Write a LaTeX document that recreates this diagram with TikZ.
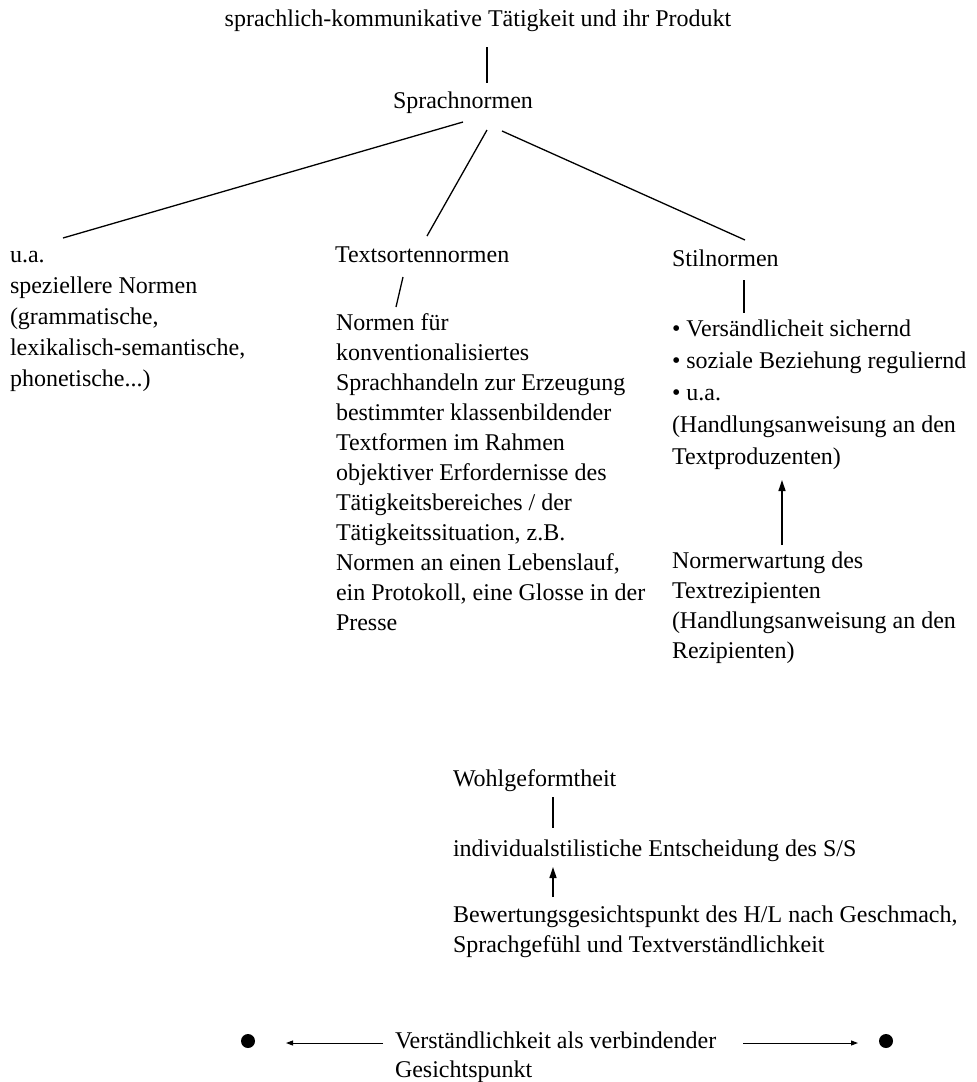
\documentclass[tikz,border=0pt]{standalone}
\usepackage{fontspec}
\setmainfont{Liberation Serif}
\usetikzlibrary{arrows.meta}
\newcommand\lineblock[2]{\vtop{\baselineskip=#1pt\lineskiplimit=-10pt\halign{##\hfil\cr#2\crcr}}}
\begin{document}
\begin{tikzpicture}[x=1pt,y=-1pt,
  font=\fontsize{24}{30}\selectfont,
  every node/.style={inner sep=0pt,outer sep=0pt},
  lbl/.style={anchor=base west},
  conn/.style={line width=1.3pt},
  uparr/.style={line width=1.3pt,-{Triangle[length=11pt,width=7pt]}},
  sidearr/.style={line width=1pt,-{Triangle[length=7pt,width=5pt]}},
  blob/.style={circle,fill=black,minimum size=14pt,anchor=center}]
\useasboundingbox (0,0) rectangle (977,1082);

% top
\node[anchor=base] (title) at (478,26) {sprachlich-kommunikative Tätigkeit und ihr Produkt};
\node[lbl] (sprach) at (393,108) {Sprachnormen};
\draw[conn] ([shift={(9,21)}]title.base) -- ([shift={(94,-25)}]sprach.base west);

% level 2
\node[lbl] (ua) at (10,262) {u.a.};
\node[lbl] (spez) at (10,293) {\lineblock{31}{speziellere Normen\cr
(grammatische,\cr
lexikalisch-semantische,\cr
phonetische...)}};

\node[lbl] (tsn) at (335,262) {Textsortennormen};
\node[lbl] (tsb) at (336,330) {\lineblock{30}{Normen für\cr
konventionalisiertes\cr
Sprachhandeln zur Erzeugung\cr
bestimmter klassenbildender\cr
Textformen im Rahmen\cr
objektiver Erfordernisse des\cr
Tätigkeitsbereiches / der\cr
Tätigkeitssituation, z.B.\cr
Normen an einen Lebenslauf,\cr
ein Protokoll, eine Glosse in der\cr
Presse}};

\node[lbl] (stil) at (672,266) {Stilnormen};
\node[lbl] (bul) at (672,336) {\lineblock{32}{• Versändlicheit sichernd\cr
• soziale Beziehung reguliernd\cr
• u.a.\cr
(Handlungsanweisung an den\cr
Textproduzenten)}};
\node[lbl] (nrm) at (672,568) {\lineblock{30}{Normerwartung des\cr
Textrezipienten\cr
(Handlungsanweisung an den\cr
Rezipienten)}};

\draw[conn] ([shift={(70,14)}]sprach.base west) -- ([shift={(53,-24)}]ua.base west);
\draw[conn] ([shift={(94,22)}]sprach.base west) -- ([shift={(92,-26)}]tsn.base west);
\draw[conn] ([shift={(109,23)}]sprach.base west) -- ([shift={(73,-26)}]stil.base west);

\draw[conn] ([shift={(68,15)}]tsn.base west) -- ([shift={(60,-23)}]tsb.base west);
\draw[conn] ([shift={(72,14)}]stil.base west) -- ([shift={(72,-23)}]bul.base west);
\draw[uparr] ([shift={(110,-23)}]nrm.base west) -- ([shift={(110,144)}]bul.base west);

% lower part
\node[lbl] (wohl) at (453,786) {Wohlgeformtheit};
\node[lbl] (ind) at (453,856) {individualstilistiche Entscheidung des S/S};
\node[lbl] (bew) at (453,922) {\lineblock{30}{Bewertungsgesichtspunkt des H/L nach Geschmach,\cr
Sprachgefühl und Textverständlichkeit}};
\draw[conn] ([shift={(100,11)}]wohl.base west) -- ([shift={(100,-28)}]ind.base west);
\draw[uparr] ([shift={(100,-25)}]bew.base west) -- ([shift={(100,11)}]ind.base west);

% bottom row
\node[lbl] (ver) at (395,1048) {\lineblock{29}{Verständlichkeit als verbindender\cr
Gesichtspunkt}};
\node[blob] (dotL) at (248,1041) {};
\node[blob] (dotR) at (886,1041) {};
\draw[sidearr] ([shift={(-12,-5)}]ver.base west) -- ([shift={(31,2)}]dotL.east);
\draw[sidearr] ([shift={(348,-5)}]ver.base west) -- ([shift={(-21,2)}]dotR.west);
\end{tikzpicture}
\end{document}
